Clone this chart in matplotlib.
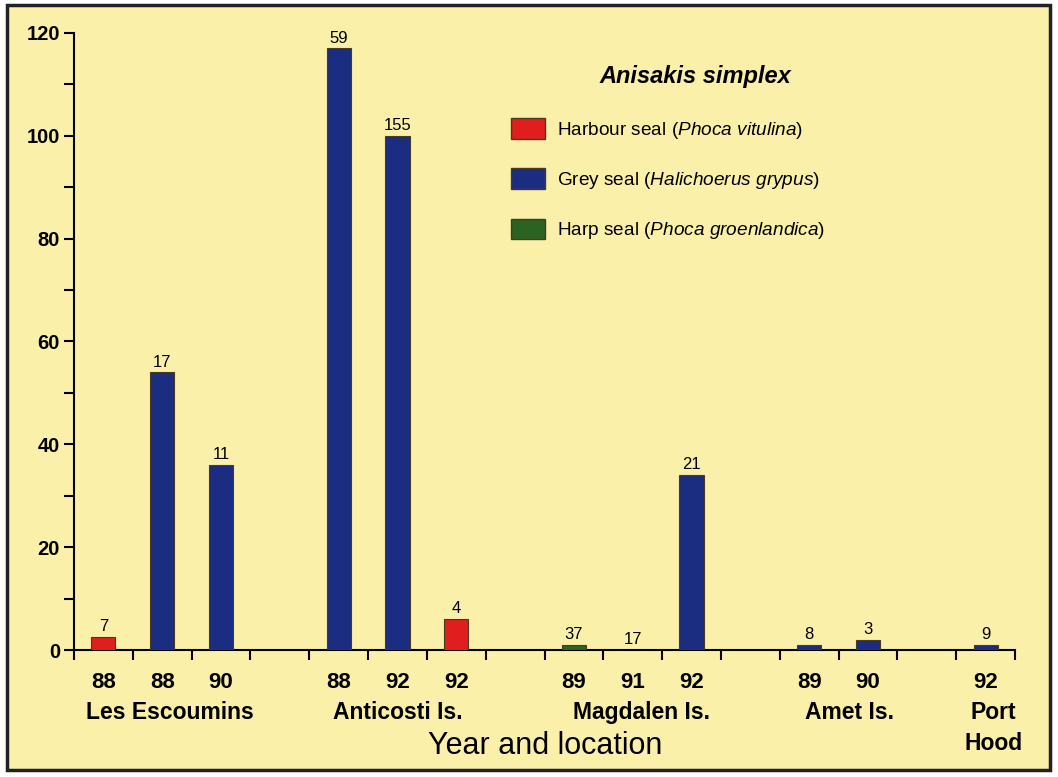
import matplotlib.pyplot as plt
from matplotlib.patches import Rectangle, Patch

plt.rcParams['font.family'] = ['Liberation Sans', 'DejaVu Sans']
plt.rcParams['mathtext.fontset'] = 'custom'
plt.rcParams['mathtext.rm'] = 'Liberation Sans'
plt.rcParams['mathtext.it'] = 'Liberation Sans:italic'
plt.rcParams['mathtext.bf'] = 'Liberation Sans:bold'

# data: one slot per bar, None = empty gap
years = ['88', '88', '90', None, '88', '92', '92', None, '89', '91', '92', None, '89', '90', None, '92']
values = [2.5, 54, 36, None, 117, 100, 6, None, 1, 0, 34, None, 1, 2, None, 1]
host = ['harbour', 'grey', 'grey', None, 'grey', 'grey', 'harbour', None, 'harp', 'grey', 'grey', None,
        'grey', 'grey', None, 'grey']
n_seals = ['7', '17', '11', None, '59', '155', '4', None, '37', '17', '21', None, '8', '3', None, '9']
locations = ['Les Escoumins', 'Anticosti Is.', 'Magdalen Is.', 'Amet Is.', 'Port\nHood']
loc_pos = [1.13, 5.0, 9.15, 12.68, 15.13]

colors = {'harbour': '#E01E1E', 'grey': '#1B2D80', 'harp': '#2B6323'}
bg = '#FBF0AA'

fig = plt.figure(figsize=(10.58, 7.77), dpi=100, facecolor='white')
fig.patches.append(Rectangle((7 / 1058, 7 / 777), 1043 / 1058, 765 / 777, transform=fig.transFigure,
                             facecolor=bg, edgecolor='#222222', linewidth=2.5, zorder=-10))

ax = fig.add_axes([74 / 1058, 127 / 777, 941 / 1058, 617 / 777])
ax.set_facecolor('none')

xs = [i for i, v in enumerate(values) if v is not None]
hs = [values[i] for i in xs]
cs = [colors[host[i]] for i in xs]
bars = ax.bar(xs, hs, width=0.41, color=cs, edgecolor='#4a3a20', linewidth=0.8, zorder=3)
ax.bar_label(bars, labels=[n_seals[i] for i in xs], padding=2, fontsize=12)

ax.set_xlim(-0.5, 15.5)
ax.set_ylim(0, 120)
ax.set_yticks(range(0, 121, 20))
ax.set_yticks(range(10, 120, 20), minor=True)
ax.tick_params(axis='y', which='major', length=7, width=1.5, labelsize=14.5, pad=3)
ax.tick_params(axis='y', which='minor', length=7, width=1.5)
for lab in ax.get_yticklabels():
    lab.set_fontweight('bold')

ax.set_xticks([i - 0.5 for i in range(17)], minor=True)
ax.set_xticks([i for i, y in enumerate(years) if y is not None])
ax.set_xticklabels([y for y in years if y is not None], fontsize=16, fontweight='bold')
ax.tick_params(axis='x', which='major', length=0, pad=16)
ax.tick_params(axis='x', which='minor', length=7, width=1.5)

for s in ['top', 'right']:
    ax.spines[s].set_visible(False)
for s in ['left', 'bottom']:
    ax.spines[s].set_linewidth(1.5)

tr = ax.get_xaxis_transform()
for name, p in zip(locations, loc_pos):
    ax.text(p, -0.083, name, transform=tr, ha='center', va='top', fontsize=16.5,
            fontweight='bold', linespacing=1.45)

fig.text(545 / 1058, 1 - 746 / 777, 'Year and location', ha='center', va='center', fontsize=22)

# legend
fig.text(695 / 1058, 1 - 76 / 777, 'Anisakis simplex', ha='center', va='center', fontsize=17,
         fontweight='bold', fontstyle='italic')
handles = [Patch(facecolor=colors['harbour'], edgecolor='#4a3a20'),
           Patch(facecolor=colors['grey'], edgecolor='#4a3a20'),
           Patch(facecolor=colors['harp'], edgecolor='#4a3a20')]
labels = [r'Harbour seal ($\mathit{Phoca\ vitulina}$)',
          r'Grey seal ($\mathit{Halichoerus\ grypus}$)',
          r'Harp seal ($\mathit{Phoca\ groenlandica}$)']
fig.legend(handles, labels, loc='upper left', bbox_to_anchor=(511 / 1058, 1 - 118 / 777),
           frameon=False, fontsize=13.7, handlelength=1.8, handleheight=1.3, labelspacing=1.45,
           handletextpad=0.6, borderpad=0, borderaxespad=0)

fig.savefig('out.png', dpi=100, facecolor=fig.get_facecolor())
